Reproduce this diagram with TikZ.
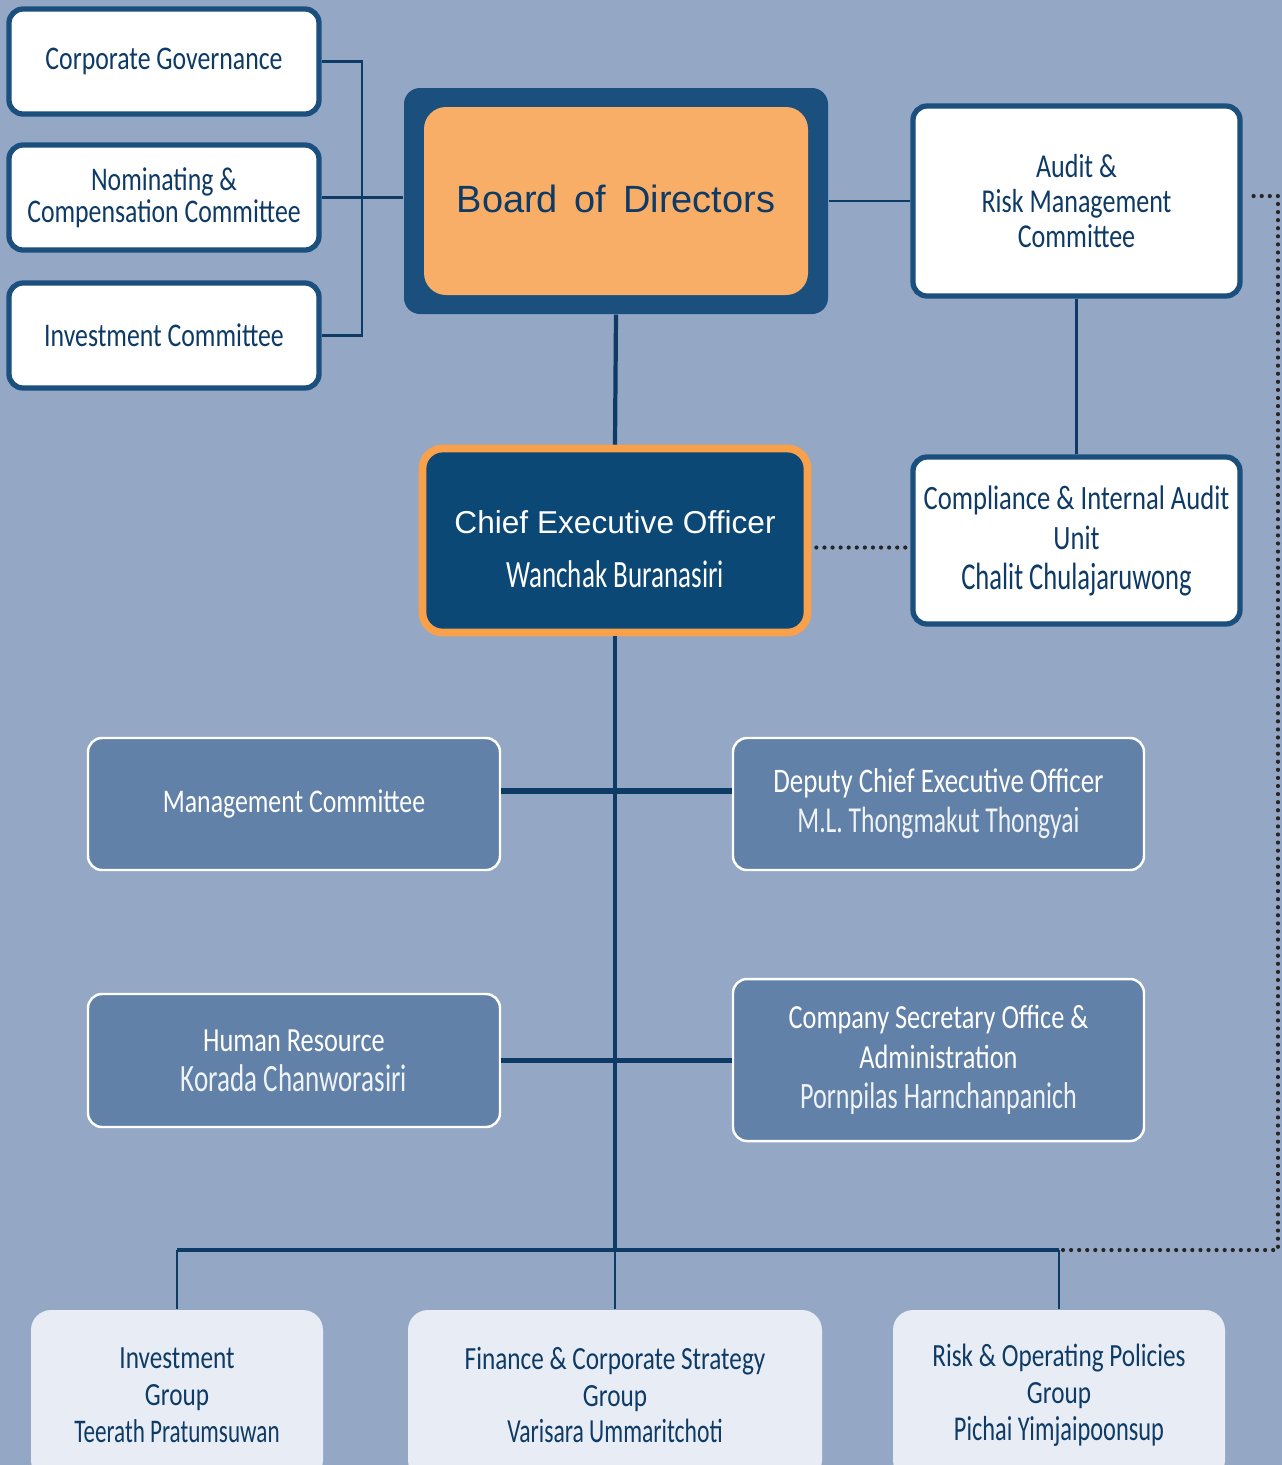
\documentclass[tikz,border=0pt]{standalone}
\usepackage{fontspec}
\setmainfont{Carlito}[FakeStretch=0.78]
\newfontfamily\namefont{Carlito}[FakeStretch=0.70]
\newfontfamily\headfont{Liberation Sans}
\usetikzlibrary{calc}
\definecolor{bgblue}{HTML}{94A8C6}
\definecolor{navy}{HTML}{1B4F7E}
\definecolor{inknavy}{HTML}{0E3A66}
\definecolor{ceonavy}{HTML}{0B4876}
\definecolor{bodorange}{HTML}{F8AE67}
\definecolor{ceoorange}{HTML}{F9A04B}
\definecolor{midblue}{HTML}{6181A8}
\definecolor{paleblue}{HTML}{E8EDF5}
\definecolor{dotgrey}{HTML}{262626}
\newcommand{\who}[2]{{\namefont\fontsize{#1}{11.4}\selectfont #2}}

\begin{document}
\begin{tikzpicture}[
	govbox/.style={draw=navy, line width=1.5pt, fill=white, rounded corners=0.14cm, text=inknavy, align=center, inner sep=0pt},
	midbox/.style={draw=white, line width=0.7pt, fill=midblue, rounded corners=0.14cm, text=white, align=center, inner sep=0pt},
	grpbox/.style={fill=paleblue, rounded corners=0.2cm, text=inknavy, align=center, inner sep=0pt},
	link/.style={draw=inknavy, line width=0.6pt},
	trunk/.style={draw=inknavy, line width=1.2pt},
	bar/.style={draw=inknavy, line width=1.6pt},
	dots/.style={draw=dotgrey, line width=1.2pt, line cap=round, dash pattern=on 0pt off 2.3pt}
	]
	%%%%% START %%%%%
	\fill[bgblue] (0, 0) rectangle (12.82, -14.65);
	\useasboundingbox (0, 0) rectangle (12.82, -14.65);
	
	% committees of the board
	\node[govbox, minimum width=3.10cm, minimum height=1.05cm, font=\fontsize{9.4}{9.1}\selectfont] (cg) at (1.64, -0.615) {Corporate Governance};
	\node[govbox, minimum width=3.10cm, minimum height=1.05cm, font=\fontsize{9.4}{9.1}\selectfont] (nc) at (1.64, -1.975) {Nominating \&\\Compensation Committee};
	\node[govbox, minimum width=3.10cm, minimum height=1.05cm, font=\fontsize{9.4}{9.1}\selectfont] (ic) at (1.64, -3.355) {Investment Committee};
	\coordinate (brk) at (3.62, -1.975);
	
	% board
	\node[fill=navy, rounded corners=0.16cm, minimum width=4.24cm, minimum height=2.26cm] (bodout) at (6.16, -2.01) {};
	\node[fill=bodorange, rounded corners=0.22cm, minimum width=3.84cm, minimum height=1.88cm, text=inknavy, font=\headfont\fontsize{10.8}{13}\selectfont] (bod) at (6.16, -2.01) {\raisebox{0.05cm}{Board\, of\, Directors}};
	
	% audit side
	\node[govbox, minimum width=3.27cm, minimum height=1.90cm, font=\fontsize{9.5}{10}\selectfont] (armc) at (10.765, -2.01) {Audit \&\\Risk Management\\Committee};
	\node[govbox, minimum width=3.27cm, minimum height=1.67cm, font=\fontsize{9.7}{11.4}\selectfont] (ciau) at (10.765, -5.405) {Compliance \& Internal Audit\\Unit\\\who{10.8}{Chalit Chulajaruwong}};
	
	% ceo
	\node[draw=ceoorange, line width=2.2pt, fill=ceonavy, rounded corners=0.2cm, minimum width=3.85cm, minimum height=1.84cm] (ceo) at (6.15, -5.405) {};
	\node[text=white, align=center, inner sep=0pt] (ceotxt) at ([yshift=-0.09cm]ceo.center) {{\headfont\fontsize{9}{11}\selectfont Chief Executive Officer}\\[0.12cm]\who{11}{Wanchak Buranasiri}};
	
	% management level
	\node[midbox, minimum width=4.12cm, minimum height=1.32cm, font=\fontsize{9.4}{11.4}\selectfont] (mc) at (2.94, -8.04) {Management Committee};
	\node[midbox, minimum width=4.11cm, minimum height=1.32cm, font=\fontsize{9.8}{11.4}\selectfont] (dceo) at (9.385, -8.04) {Deputy Chief Executive Officer\\{\color{white!90!midblue}\who{10.4}{M.L. Thongmakut Thongyai}}};
	\node[midbox, minimum width=4.12cm, minimum height=1.33cm, font=\fontsize{9.6}{11.4}\selectfont] (hr) at (2.94, -10.605) {Human Resource\\{\color{white!90!midblue}\who{11}{Korada Chanworasiri}}};
	\node[midbox, minimum width=4.11cm, minimum height=1.62cm, font=\fontsize{9.6}{11.4}\selectfont] (cso) at (9.385, -10.60) {Company Secretary Office \&\\Administration\\{\color{white!90!midblue}\who{10.6}{Pornpilas Harnchanpanich}}};
	
	% groups
	\coordinate (bus) at (6.15, -12.50);
	\node[grpbox, minimum width=2.92cm, minimum height=1.70cm, font=\fontsize{9.2}{10.5}\selectfont] (ig) at (1.77, -13.95) {Investment\\Group\\\who{9.4}{Teerath Pratumsuwan}};
	\node[grpbox, minimum width=4.14cm, minimum height=1.70cm, font=\fontsize{9.2}{10.5}\selectfont] (fg) at (6.15, -13.95) {Finance \& Corporate Strategy\\Group\\\who{9.6}{Varisara Ummaritchoti}};
	\node[grpbox, minimum width=3.32cm, minimum height=1.70cm, font=\fontsize{9.2}{10.5}\selectfont] (rg) at (10.59, -13.95) {Risk \& Operating Policies\\Group\\\who{9.9}{Pichai Yimjaipoonsup}};
	
	% lines
	\draw[link] (cg.east) -| (brk) |- (ic.east);
	\draw[link] (nc.east) -- (nc.east -| bodout.west);
	\draw[link] (bodout.east |- armc.west) -- (armc.west);
	\draw[link] (armc.south) -- (ciau.north);
	\draw[trunk] (bodout.south) -- (ceo.north);
	\draw[trunk] (ceo.south) -- (bus);
	\draw[link] (bus) -- (fg.north);
	\draw[trunk] (ig.north |- bus) -- (rg.north |- bus);
	\draw[link] (ig.north |- bus) -- (ig.north);
	\draw[link] (rg.north |- bus) -- (rg.north);
	\draw[bar] ([yshift=0.13cm]mc.east) -- ([yshift=0.13cm]dceo.west);
	\draw[bar] (hr.east) -- (hr.east -| cso.west);
	\draw[dots] ([xshift=0.05cm, yshift=-0.07cm]ceo.east) -- ([xshift=-0.05cm, yshift=-0.07cm]ciau.west);
	\draw[dots] ([xshift=0.04cm]rg.north |- bus) -- ++(2.15, 0) |- ([xshift=0.05cm, yshift=0.05cm]armc.east);
	%%%%% END %%%%%
\end{tikzpicture}
\end{document}
